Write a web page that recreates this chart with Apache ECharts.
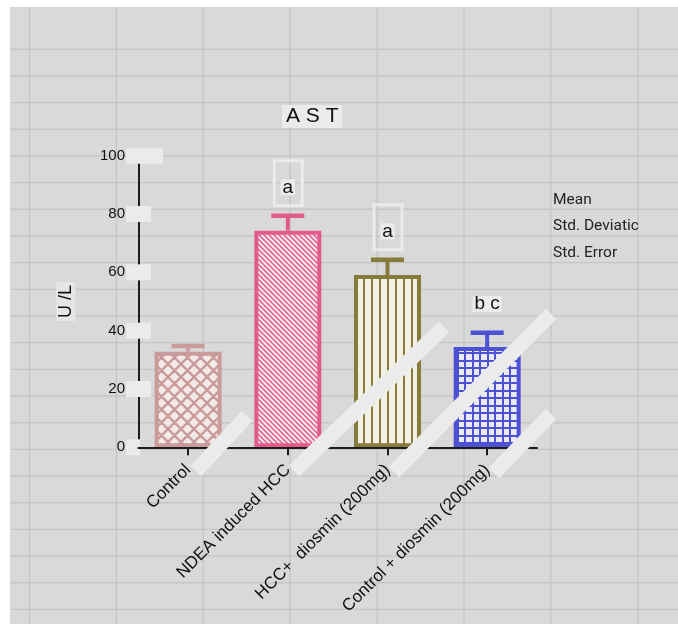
<!DOCTYPE html>
<html>
<head>
<meta charset="utf-8">
<script src="https://cdn.jsdelivr.net/npm/echarts@6/dist/echarts.min.js"></script>
<style>
  html, body { margin: 0; padding: 0; background: #ffffff; }
  #chart { width: 678px; height: 624px; }
</style>
</head>
<body>
<div id="chart"></div>
<script>
// ---- data ----
const categories = ['Control', 'NDEA induced HCC', 'HCC+  diosmin (200mg)', 'Control + diosmin (200mg)'];
const meanValues = [32.8, 74.3, 59.1, 34.4];
const errorValues = [1.9, 5.1, 5.2, 4.9];
const groupLetters = ['', 'a', 'a', 'b c'];
const yTickValues = [0, 20, 40, 60, 80, 100];
const sheetCells = ['Mean', 'Std. Deviatic', 'Std. Error'];

// ---- styles ----
const FONT = '"Liberation Sans", Arial, sans-serif';
const SHEET_BG = '#d9d9d9';
const LIGHT_BOX = '#ebebeb';
const strokeColors = ['#c99b9b', '#e15c8c', '#877b3c', '#4d51d3'];
const letterFramed = [false, true, true, false];

// small canvas tiles used as bar fills
function makeTile(w, h, bg, paint) {
  const c = document.createElement('canvas');
  c.width = w; c.height = h;
  const g = c.getContext('2d');
  g.fillStyle = bg;
  g.fillRect(0, 0, w, h);
  paint(g, w, h);
  return c;
}
const tiles = [
  // diamond cross-hatch
  makeTile(13, 13, '#f4e9e9', (g, w, h) => {
    g.strokeStyle = strokeColors[0]; g.lineWidth = 2.4; g.beginPath();
    for (const dx of [-w, 0, w]) {
      g.moveTo(dx - 2, -2); g.lineTo(dx + w + 2, h + 2);
      g.moveTo(dx + w + 2, -2); g.lineTo(dx - 2, h + 2);
    }
    g.stroke();
  }),
  // dense back-diagonal hatch
  makeTile(5, 5, '#f8e6ed', (g, w, h) => {
    g.strokeStyle = strokeColors[1]; g.lineWidth = 1.5; g.beginPath();
    for (const dx of [-w, 0, w]) { g.moveTo(dx - 1, -1); g.lineTo(dx + w + 1, h + 1); }
    g.stroke();
  }),
  // vertical lines
  makeTile(8, 8, '#f3f1e5', (g) => {
    g.fillStyle = strokeColors[2]; g.fillRect(3, 0, 2, 8);
  }),
  // square grid
  makeTile(15, 15, '#e9e9f6', (g) => {
    g.fillStyle = strokeColors[3];
    g.fillRect(0, 0, 2, 15); g.fillRect(7, 0, 2, 15);
    g.fillRect(0, 0, 15, 2); g.fillRect(0, 7, 15, 2);
  })
];
const tileShift = [0, 0, 6, 3];

function barData(offsets) {
  return meanValues.map((v, i) => ({
    value: v,
    itemStyle: {
      color: { image: tiles[i], repeat: 'repeat', x: offsets ? offsets[i] : 0, y: 0 },
      borderColor: strokeColors[i],
      borderWidth: 4
    }
  }));
}

// spreadsheet backdrop and decorations
const graphics = [];
graphics.push({ type: 'rect', z: -10, silent: true, shape: { x: 10, y: 7, width: 668, height: 617 }, style: { fill: SHEET_BG } });
for (let y = 49.3; y < 624; y += 26.67) {
  graphics.push({ type: 'line', z: -9, silent: true, shape: { x1: 10, y1: y, x2: 678, y2: y }, style: { stroke: '#c6c6c6', lineWidth: 1.4 } });
}
for (let x = 29.5; x < 678; x += 86.9) {
  graphics.push({ type: 'line', z: -9, silent: true, shape: { x1: x, y1: 7, x2: x, y2: 624 }, style: { stroke: '#c3c8c3', lineWidth: 1.4 } });
}
sheetCells.forEach((t, k) => {
  graphics.push({ type: 'text', z: 5, left: 553, top: 192 + k * 26.5, style: { text: t, font: '15.5px Roboto', fill: '#222' } });
});
// light diagonal streaks across the plot
[[196, 471, 247, 416], [294, 471, 444, 327], [394, 472, 551, 314], [494, 473, 551, 414]].forEach(s => {
  graphics.push({ type: 'line', z: 100, silent: true, shape: { x1: s[0], y1: s[1], x2: s[2], y2: s[3] }, style: { stroke: LIGHT_BOX, lineWidth: 15 } });
});

const chart = echarts.init(document.getElementById('chart'), null, { renderer: 'canvas' });

const option = {
  backgroundColor: 'transparent',
  animation: false,
  title: {
    text: 'A S T',
    left: 282, top: 105,
    padding: [1, 4, 1, 4],
    backgroundColor: LIGHT_BOX,
    textStyle: { fontFamily: FONT, fontSize: 21, fontWeight: 'normal', color: '#111', lineHeight: 21 }
  },
  grid: { left: 138.3, right: 141, top: 155.7, bottom: 176.7, containLabel: false },
  xAxis: {
    type: 'category',
    data: categories,
    z: 3,
    axisLine: { show: true, lineStyle: { color: '#1c1c1c', width: 2 } },
    axisTick: { show: true, alignWithLabel: true, length: 8, lineStyle: { color: '#1c1c1c', width: 2 } },
    axisLabel: { interval: 0, rotate: 45, margin: 20, fontFamily: FONT, fontSize: 17, color: '#111' },
    splitLine: { show: false }
  },
  yAxis: {
    type: 'value',
    min: yTickValues[0], max: yTickValues[yTickValues.length - 1], interval: 20,
    name: 'U /L',
    nameLocation: 'middle',
    nameRotate: 90,
    nameGap: 63,
    nameTextStyle: { fontFamily: FONT, fontSize: 18, color: '#111', backgroundColor: '#e6e6e6', padding: [1, 3, 1, 3], lineHeight: 17 },
    axisLine: { show: true, lineStyle: { color: '#1c1c1c', width: 2 } },
    axisTick: { show: false },
    splitLine: { show: false },
    axisLabel: {
      margin: -24.7,
      formatter: v => {
        if (v === 100) return '{t|' + v + '}{w|}';
        if (v === 0) return '{t|' + v + '}{n|}{g0|}';
        return '{t|' + v + '}{b|}{g|}';
      },
      rich: {
        t: { fontFamily: FONT, fontSize: 15, color: '#111', padding: [0, 1, 0, 0] },
        w: { width: 37, height: 16, backgroundColor: LIGHT_BOX },
        b: { width: 25, height: 16, backgroundColor: LIGHT_BOX },
        n: { width: 14, height: 16, backgroundColor: LIGHT_BOX },
        g: { width: 12, height: 16 },
        g0: { width: 23, height: 16 }
      }
    }
  },
  graphic: graphics,
  series: [
    {
      type: 'bar',
      barWidth: 67,
      data: barData(null),
      z: 2
    },
    {
      type: 'custom',
      z: 4,
      data: meanValues.map((m, i) => [i, m, m + errorValues[i]]),
      renderItem: (params, api) => {
        const i = api.value(0);
        const base = api.coord([i, api.value(1)]);
        const top = api.coord([i, api.value(2)]);
        const col = strokeColors[i];
        const kids = [
          { type: 'line', shape: { x1: base[0], y1: base[1], x2: top[0], y2: top[1] }, style: { stroke: col, lineWidth: 4 } },
          { type: 'line', shape: { x1: top[0] - 16.5, y1: top[1], x2: top[0] + 16.5, y2: top[1] }, style: { stroke: col, lineWidth: 4.5 } }
        ];
        const letter = groupLetters[i];
        if (letter) {
          const ty = top[1] - 28.5;
          if (letterFramed[i]) {
            kids.push({ type: 'rect', shape: { x: top[0] - 13.5, y: ty - 26.5, width: 28, height: 45 }, style: { fill: 'none', stroke: LIGHT_BOX, lineWidth: 3 } });
          }
          kids.push({
            type: 'text',
            x: top[0], y: ty,
            style: {
              text: letter, fill: '#111', font: '19px ' + FONT,
              align: 'center', verticalAlign: 'middle',
              backgroundColor: LIGHT_BOX, padding: [1, 2, 0, 2], lineHeight: 15
            }
          });
        }
        return { type: 'group', children: kids };
      }
    }
  ]
};

chart.setOption(option);

// line the fill tiles up with each bar's left edge
const offsets = meanValues.map((v, i) => {
  const p = chart.convertToPixel({ seriesIndex: 0 }, [i, 0]);
  return Math.round(p[0] - 33.5) + tileShift[i];
});
chart.setOption({ series: [{ data: barData(offsets) }] });
</script>
</body>
</html>
